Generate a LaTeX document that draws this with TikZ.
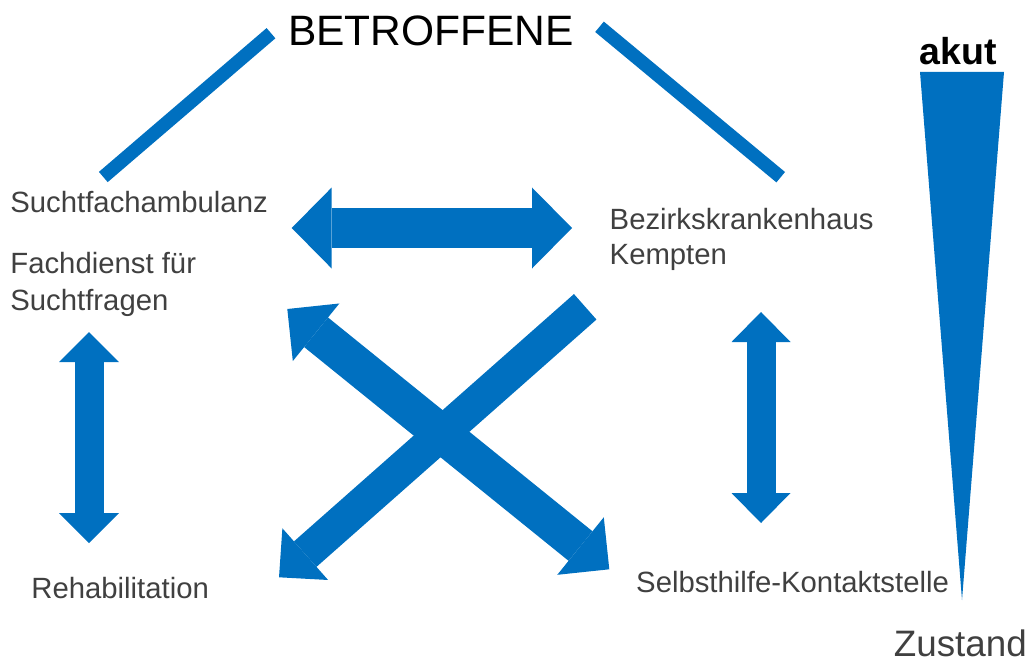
\documentclass[tikz,border=0pt]{standalone}
\usepackage{fontspec}
\setmainfont{Liberation Sans}
\usetikzlibrary{arrows.meta}
\definecolor{ablue}{HTML}{0070C0}
\definecolor{tgray}{HTML}{404040}
\tikzset{
  lbl/.style={inner sep=0pt, anchor=base west, text=tgray, font=\fontsize{29.3}{35}\selectfont},
  bar/.style={draw=ablue, line width=13.5pt},
  bigarrow/.style={draw=ablue, line width=40pt},
  vertarrow/.style={draw=ablue, line width=29pt},
  crossA/.style={draw=ablue, line width=38pt},
  crossB/.style={draw=ablue, line width=34pt},
}
\begin{document}
\begin{tikzpicture}[x=1pt,y=-1pt]
\useasboundingbox (0,0) rectangle (1030,658);
% texts
\node[inner sep=0pt, anchor=base west, font=\fontsize{42.5}{50}\selectfont] (betr) at (288,45.7) {BETROFFENE};
\node[lbl] (sfa) at (10.2,212) {Suchtfachambulanz};
\node[lbl] (fd1) at (10.2,273.5) {Fachdienst für};
\node[lbl] (fd2) at (10.2,310) {Suchtfragen};
\node[lbl] (bkh1) at (609.5,229.3) {Bezirkskrankenhaus};
\node[lbl] (bkh2) at (609.5,264) {Kempten};
\node[lbl] (reha) at (31.2,598.3) {Rehabilitation};
\node[lbl] (shk) at (636,592.3) {Selbsthilfe-Kontaktstelle};
\node[inner sep=0pt, anchor=base west, font=\fontsize{37.5}{44}\selectfont\bfseries] (akut) at (919.3,65) {akut};
\node[inner sep=0pt, anchor=base west, text=tgray, font=\fontsize{36.8}{42}\selectfont] (zust) at (893.6,656.7) {Zustand};
% coordinates
\coordinate (l1a) at (103.3,177);
\coordinate (l1b) at (271,33.2);
\coordinate (l2a) at (599.5,26.8);
\coordinate (l2b) at (780.7,177.2);
\coordinate (hL) at (291.7,228);
\coordinate (hR) at (572,228);
\coordinate (vLt) at (89,332);
\coordinate (vLb) at (89,543);
\coordinate (vRt) at (761,312);
\coordinate (vRb) at (761,523);
\coordinate (aTL) at (287.3,309);
\coordinate (aBR) at (609.3,569.3);
\coordinate (bTR) at (585.2,306.8);
\coordinate (bBL) at (279,577.3);
\coordinate (wL) at (920,72);
\coordinate (wR) at (1004,72);
\coordinate (wT) at (962,600);
% top bars
\draw[bar] (l1a) -- (l1b);
\draw[bar] (l2a) -- (l2b);
% arrows
\draw[bigarrow, {Triangle[length=40pt,width=81pt,line width=0pt]}-{Triangle[length=40pt,width=81pt,line width=0pt]}] (hL) -- (hR);
\draw[vertarrow, {Triangle[length=30pt,width=60pt,line width=0pt]}-{Triangle[length=30pt,width=60pt,line width=0pt]}] (vLt) -- (vLb);
\draw[vertarrow, {Triangle[length=30pt,width=59pt,line width=0pt]}-{Triangle[length=30pt,width=59pt,line width=0pt]}] (vRt) -- (vRb);
\draw[crossA, {Triangle[length=37pt,width=74pt,line width=0pt]}-{Triangle[length=37pt,width=74pt,line width=0pt]}] (aTL) -- (aBR);
\draw[crossB, -{Triangle[length=35pt,width=69pt,line width=0pt]}] (bTR) -- (bBL);
% wedge
\fill[ablue] (wL) -- (wR) -- (wT) -- cycle;
\end{tikzpicture}
\end{document}
